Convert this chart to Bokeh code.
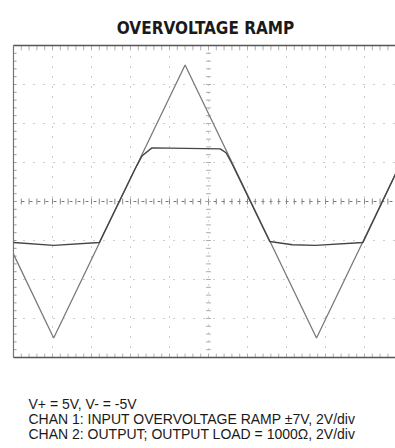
import numpy as np
from bokeh.plotting import figure
from bokeh.models import Range1d, Label
from bokeh.embed import file_html
from bokeh.resources import INLINE

# time in scope divisions (from the left edge of the screen), volts
time_ch1 = [0.0, 1.03, 4.40, 7.77, 9.80]
volts_ch1 = [-2.7, -7.0, 7.0, -7.0, 1.43]

time_ch2 = [0.0, 1.03, 2.20, 3.12, 3.30, 3.55, 5.30, 5.45, 5.60, 6.57, 7.15, 7.75, 8.96, 9.80]
volts_ch2 = [-2.10, -2.25, -2.10, 1.68, 2.35, 2.75, 2.70, 2.50, 1.95, -2.05, -2.22, -2.25, -2.10, 1.43]

title_text = "OVERVOLTAGE RAMP"
notes = [
    "V+ = 5V,  V- = -5V",
    "CHAN 1: INPUT OVERVOLTAGE RAMP \u00b17V, 2V/div",
    "CHAN 2: OUTPUT; OUTPUT LOAD = 1000\u03a9, 2V/div",
]
x_divs = [1, 2, 3, 4, 6, 7, 8, 9]
y_divs = [-6, -4, -2, 2, 4, 6]
screen_top, screen_bottom, screen_right = 8.0, -8.0, 9.80

W, H = 395, 448
p = figure(width=W, height=H, output_backend="svg", toolbar_location=None,
           x_range=Range1d(-0.333, 9.795), y_range=Range1d(-12.667, 10.308),
           min_border=0)
p.axis.visible = False
p.grid.visible = False
p.outline_line_color = None
p.background_fill_color = "white"
p.border_fill_color = "white"

# dotted graticule
p.segment(x0=x_divs, y0=screen_bottom, x1=x_divs, y1=screen_top,
          line_color="#9a9a9a", line_dash="1 9", line_width=1)
p.segment(x0=0, y0=y_divs, x1=screen_right, y1=y_divs,
          line_color="#9a9a9a", line_dash="1 9", line_width=1)

# centre crosshair
p.segment(x0=0, y0=0, x1=screen_right, y1=0, line_color="#777777", line_dash="3 5", line_width=1)
p.segment(x0=5, y0=screen_bottom, x1=5, y1=screen_top, line_color="#aaaaaa", line_dash="1 7", line_width=1)
minor_x = np.arange(0, 9.8, 0.2)
minor_y = np.arange(-8, 8.01, 0.4)
p.segment(x0=minor_x, y0=-0.15, x1=minor_x, y1=0.15, line_color="#888888", line_width=1)
p.segment(x0=4.94, y0=minor_y, x1=5.06, y1=minor_y, line_color="#aaaaaa", line_width=1)
# border ticks
p.segment(x0=minor_x, y0=7.75, x1=minor_x, y1=8, line_color="#b0b0b0", line_width=1)
p.segment(x0=minor_x, y0=-8, x1=minor_x, y1=-7.8, line_color="#b0b0b0", line_width=1)
p.segment(x0=0, y0=minor_y, x1=0.08, y1=minor_y, line_color="#999999", line_width=1)

# screen edges
p.segment(x0=0, y0=[screen_top, screen_bottom], x1=screen_right, y1=[screen_top, screen_bottom],
          line_color="#555555", line_width=1.6)
p.segment(x0=0, y0=screen_bottom, x1=0, y1=screen_top, line_color="#777777", line_width=1.2)

# traces
p.line(time_ch1, volts_ch1, line_color="#7a7a7a", line_width=1.3)
p.line(time_ch2, volts_ch2, line_color="#454545", line_width=1.4)

p.add_layout(Label(x=205, y=421, x_units="screen", y_units="screen", text=title_text,
                   text_align="center", text_baseline="alphabetic",
                   text_font="'Liberation Sans Narrow', 'DejaVu Sans Condensed'",
                   text_font_style="bold", text_font_size="17px", text_color="#1a1a1a"))
for i, t in enumerate(notes):
    p.add_layout(Label(x=28, y=45 - 15 * i, x_units="screen", y_units="screen", text=t,
                       text_align="left", text_baseline="alphabetic",
                       text_font="'Liberation Sans', Arial",
                       text_font_size="14px", text_color="#1a1a1a"))

open("out.html", "w").write(file_html(p, INLINE))
